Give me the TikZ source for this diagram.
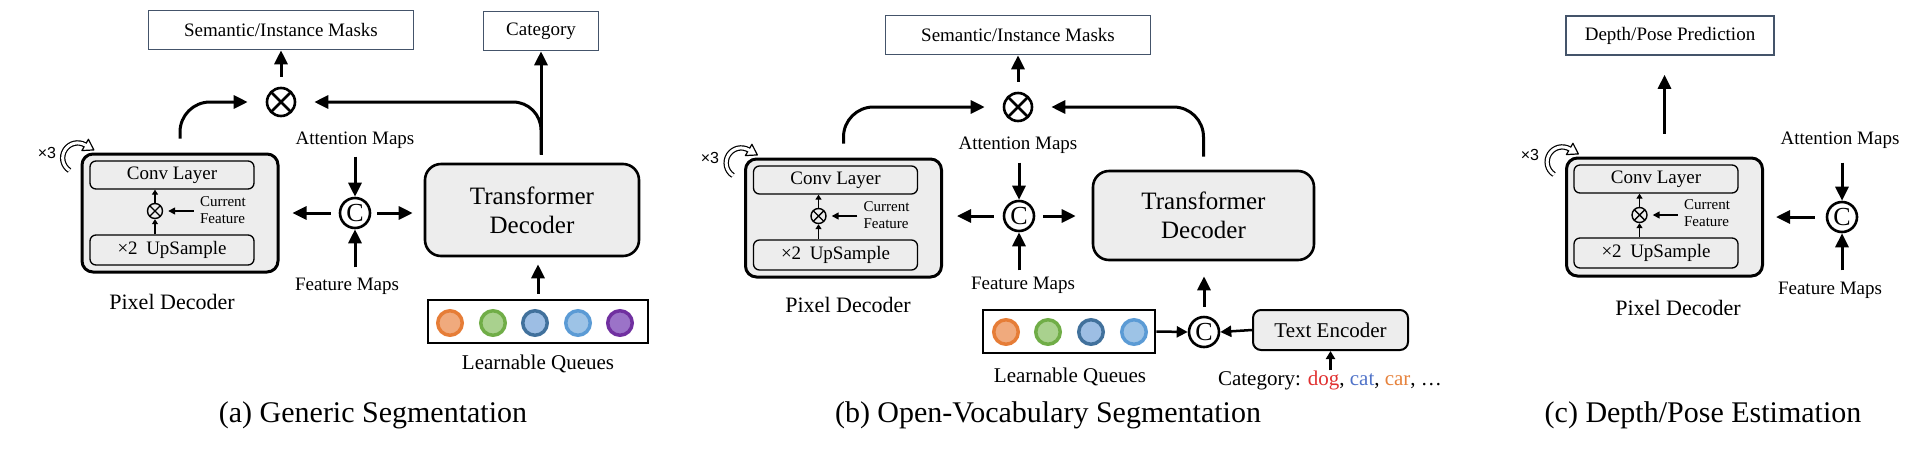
\documentclass[tikz,border=0pt]{standalone}
\usepackage{fontspec}
\setmainfont{Liberation Serif}
\setsansfont{Liberation Sans}
\usepackage{xcolor}
\usetikzlibrary{arrows.meta,calc,positioning}
\definecolor{edgeblue}{RGB}{68,84,106}
\definecolor{boxgray}{RGB}{237,237,237}
\definecolor{orgedge}{RGB}{230,125,55}
\definecolor{orgfill}{RGB}{240,170,125}
\definecolor{grnedge}{RGB}{112,173,71}
\definecolor{grnfill}{RGB}{169,209,142}
\definecolor{dbledge}{RGB}{65,113,156}
\definecolor{dblfill}{RGB}{157,190,228}
\definecolor{lbledge}{RGB}{91,155,213}
\definecolor{lblfill}{RGB}{157,195,230}
\definecolor{puredge}{RGB}{112,48,160}
\definecolor{purfill}{RGB}{155,115,200}
\definecolor{dogred}{RGB}{224,48,48}
\definecolor{catblue}{RGB}{80,115,200}
\definecolor{carorange}{RGB}{230,130,60}

\begin{document}
\begin{tikzpicture}[x=1pt, y=-1pt,
    every node/.style={inner sep=0pt},
    lab/.style={font=\fontsize{19}{22}\selectfont},
    curlab/.style={font=\fontsize{15}{17}\selectfont, align=left},
    pdlab/.style={font=\fontsize{22}{26}\selectfont},
    xlab/.style={font=\sffamily\fontsize{16}{18}\selectfont},
    qlab/.style={font=\fontsize{21}{24}\selectfont},
    caplab/.style={font=\fontsize{30}{34}\selectfont},
    outbox/.style={draw=edgeblue, line width=1.6pt, minimum height=39pt, font=\fontsize{19}{22}\selectfont},
    decbox/.style={draw, line width=3pt, rounded corners=11pt, fill=boxgray, minimum width=196pt, minimum height=118pt},
    layerbox/.style={draw, line width=1.3pt, rounded corners=6pt, fill=boxgray, minimum width=164pt, font=\fontsize{19}{22}\selectfont},
    tfbox/.style={draw, line width=2.6pt, rounded corners=16pt, fill=boxgray, align=center, font=\fontsize{25}{29}\selectfont},
    tebox/.style={draw, line width=2pt, rounded corners=8pt, fill=boxgray, minimum width=155pt, minimum height=40pt, font=\fontsize{21}{24}\selectfont},
    qbox/.style={draw, line width=2.6pt, minimum height=43pt},
    qdot/.style={circle, line width=3.5pt, minimum size=24.5pt},
    mulc/.style={circle, draw, line width=2.6pt, minimum size=28pt, path picture={\draw[line width=2.6pt] (path picture bounding box.north west) -- (path picture bounding box.south east) (path picture bounding box.north east) -- (path picture bounding box.south west);}},
    smallmul/.style={circle, draw, line width=1.4pt, minimum size=15pt, path picture={\draw[line width=1.4pt] (path picture bounding box.north west) -- (path picture bounding box.south east) (path picture bounding box.north east) -- (path picture bounding box.south west);}},
    catc/.style={circle, draw, line width=2.6pt, minimum size=30pt, font=\fontsize{26}{26}\selectfont},
    bigarr/.style={line width=3pt, -{Triangle[length=14pt,width=13pt]}},
    midarr/.style={line width=2.5pt, -{Triangle[length=11pt,width=11pt]}},
    smallarr/.style={line width=1.5pt, -{Triangle[length=7pt,width=7pt]}},
    txtarr/.style={line width=2.5pt, -{Triangle[length=8pt,width=9pt]}},
    tinyarr/.style={line width=1.4pt, -{Triangle[length=5pt,width=6pt]}},
    loopline/.style={double=white, double distance=3pt, line width=1.2pt}]
\useasboundingbox (0,0) rectangle (1928,456);

\node[outbox, minimum width=265pt] (maska) at (281,30) {Semantic/Instance Masks};
\node[outbox, minimum width=115pt] (cata) at (541,31) {Category};
\node[mulc] (mula) at (281,102) {};
\node[lab] (atta) at (355,140) {Attention Maps};
\node[catc] (conca) at (355,213) {C};
\node[lab] (feata) at (347,286) {Feature Maps};
\node[decbox] (pda) at (180,213) {};
\node[layerbox, minimum height=28pt] (conva) at (172,175) {Conv Layer};
\node[layerbox, minimum height=30pt] (upa) at (172,250) {×2\hspace{0.45em}UpSample};
\node[smallmul] (smula) at (155,211) {};
\node[curlab] (cura) at (223,210) {Current\\Feature};
\node[pdlab] (pdla) at (172,302) {Pixel Decoder};
\node[xlab] (xa) at (47,153) {×3};
\node[tfbox, minimum width=214pt, minimum height=92pt] (tfa) at (532,210) {Transformer\\Decoder};
\node[qbox, minimum width=220pt] (qa) at (538,321.5) {};
\node[qdot, draw=orgedge, fill=orgfill] (qa1) at (450,323) {};
\node[qdot, draw=grnedge, fill=grnfill] (qa2) at (493,323) {};
\node[qdot, draw=dbledge, fill=dblfill] (qa3) at (535,323) {};
\node[qdot, draw=lbledge, fill=lblfill] (qa4) at (578,323) {};
\node[qdot, draw=puredge, fill=purfill] (qa5) at (620,323) {};
\node[qlab] (qla) at (538,364) {Learnable Queues};
\node[caplab] (capa) at (373,415) {(a) Generic Segmentation};

\draw[bigarr, shorten <=10pt] (mula) -- (maska);
\draw[bigarr, rounded corners=30pt, shorten >=18pt] ($(pda.north)+(0,-14)$) |- (mula.west);
\coordinate (tfta) at ($(tfa.north)+(9,-8)$);
\draw[bigarr] (tfta) -- (tfta |- cata.south);
\draw[bigarr, rounded corners=28pt, shorten >=18pt] (tfta) |- (mula.east);
\draw[bigarr] ($(conca.north)+(0,-40)$) -- (conca.north);
\draw[bigarr] ($(conca.south)+(0,38)$) -- (conca.south);
\draw[bigarr, shorten <=8pt, shorten >=13pt] (conca.west) -- (conca.west -| pda.east);
\draw[bigarr, shorten <=6pt, shorten >=11pt] (conca.east) -- (conca.east -| tfa.west);
\draw[bigarr, shorten <=5pt, shorten >=7pt] (qa.north) -- (qa.north |- tfa.south);
\draw[tinyarr] (upa.north -| smula) -- (smula.south);
\draw[tinyarr] (smula.north) -- (smula.north |- conva.south);
\draw[smallarr, shorten <=6pt, shorten >=5pt] (cura.west |- smula) -- (smula.east);
\draw[loopline] ($(pda.north west)+(-11,18)$) arc (123:300:15) coordinate (lpa);
\filldraw[fill=white, line width=1.2pt, line join=round] ($(lpa)+(3.25,-5.63)$) -- ($(lpa)+(8.66,5)$) -- ($(lpa)+(-3.25,5.63)$) -- cycle;
\draw[white, line width=3pt] ($(lpa)+(-0.87,-0.5)$) -- ($(lpa)+(1.3,0.75)$);

\node[outbox, minimum width=265pt] (maskb) at (1018,35) {Semantic/Instance Masks};
\node[mulc] (mulb) at (1018,107) {};
\node[lab] (attb) at (1018,145) {Attention Maps};
\node[catc] (concb) at (1019,216) {C};
\node[lab] (featb) at (1023,285) {Feature Maps};
\node[decbox] (pdb) at (843.5,218) {};
\node[layerbox, minimum height=28pt] (convb) at (835.5,180) {Conv Layer};
\node[layerbox, minimum height=30pt] (upb) at (835.5,255) {×2\hspace{0.45em}UpSample};
\node[smallmul] (smulb) at (818.5,216) {};
\node[curlab] (curb) at (886.5,215) {Current\\Feature};
\node[pdlab] (pdlb) at (848,305) {Pixel Decoder};
\node[xlab] (xb) at (710,158) {×3};
\node[tfbox, minimum width=221pt, minimum height=89pt] (tfb) at (1203.5,215.5) {Transformer\\Decoder};
\node[qbox, minimum width=172pt] (qb) at (1069,331.5) {};
\node[qdot, draw=orgedge, fill=orgfill] (qb1) at (1006,332) {};
\node[qdot, draw=grnedge, fill=grnfill] (qb2) at (1048,332) {};
\node[qdot, draw=dbledge, fill=dblfill] (qb3) at (1091,332) {};
\node[qdot, draw=lbledge, fill=lblfill] (qb4) at (1134,332) {};
\node[qlab] (qlb) at (1070,377) {Learnable Queues};
\node[catc] (concqb) at (1204,332) {C};
\node[tebox] (teb) at (1330.5,330) {Text Encoder};
\node[qlab] (ctxb) at (1330,380) {Category: \textcolor{dogred}{dog}, \textcolor{catblue}{cat}, \textcolor{carorange}{car}, …};
\node[caplab] (capb) at (1048,415) {(b) Open-Vocabulary Segmentation};

\draw[bigarr, shorten <=10pt] (mulb) -- (maskb);
\draw[bigarr, rounded corners=30pt, shorten >=18pt] ($(pdb.north)+(0,-14)$) |- (mulb.west);
\draw[bigarr, rounded corners=30pt, shorten >=18pt] ($(tfb.north)+(0,-13)$) |- (mulb.east);
\draw[bigarr] ($(concb.north)+(0,-37)$) -- (concb.north);
\draw[bigarr] ($(concb.south)+(0,38)$) -- (concb.south);
\draw[bigarr, shorten <=9pt, shorten >=14pt] (concb.west) -- (concb.west -| pdb.east);
\draw[bigarr, shorten <=8pt, shorten >=16pt] (concb.east) -- (concb.east -| tfb.west);
\draw[midarr] (qb.east) -- (concqb.west);
\draw[midarr] (teb.west) -- (concqb.east);
\draw[bigarr, shorten <=9pt, shorten >=15pt] (concqb.north) -- (concqb.north |- tfb.south);
\draw[txtarr] (teb.south |- ctxb.north) -- (teb.south);
\draw[tinyarr] (upb.north -| smulb) -- (smulb.south);
\draw[tinyarr] (smulb.north) -- (smulb.north |- convb.south);
\draw[smallarr, shorten <=6pt, shorten >=5pt] (curb.west |- smulb) -- (smulb.east);
\draw[loopline] ($(pdb.north west)+(-11,18)$) arc (123:300:15) coordinate (lpb);
\filldraw[fill=white, line width=1.2pt, line join=round] ($(lpb)+(3.25,-5.63)$) -- ($(lpb)+(8.66,5)$) -- ($(lpb)+(-3.25,5.63)$) -- cycle;
\draw[white, line width=3pt] ($(lpb)+(-0.87,-0.5)$) -- ($(lpb)+(1.3,0.75)$);

\node[outbox, minimum width=208pt] (predc) at (1670,35.5) {Depth/Pose Prediction};
\node[decbox] (pdc) at (1664.5,217) {};
\node[layerbox, minimum height=28pt] (convc) at (1656,179) {Conv Layer};
\node[layerbox, minimum height=30pt] (upc) at (1656,253) {×2\hspace{0.45em}UpSample};
\node[smallmul] (smulc) at (1639.5,215) {};
\node[curlab] (curc) at (1707,213) {Current\\Feature};
\node[pdlab] (pdlc) at (1678,308) {Pixel Decoder};
\node[xlab] (xc) at (1530,155) {×3};
\node[lab] (attc) at (1840,140) {Attention Maps};
\node[catc] (concc) at (1842,217) {C};
\node[lab] (featc) at (1830,290) {Feature Maps};
\node[caplab] (capc) at (1703,415) {(c) Depth/Pose Estimation};

\draw[bigarr, shorten <=23pt, shorten >=19pt] (pdc.north) -- (pdc.north |- predc.south);
\draw[bigarr] ($(concc.north)+(0,-38)$) -- (concc.north);
\draw[bigarr] ($(concc.south)+(0,37)$) -- (concc.south);
\draw[bigarr, shorten <=11pt, shorten >=12pt] (concc.west) -- (concc.west -| pdc.east);
\draw[tinyarr] (upc.north -| smulc) -- (smulc.south);
\draw[tinyarr] (smulc.north) -- (smulc.north |- convc.south);
\draw[smallarr, shorten <=6pt, shorten >=5pt] (curc.west |- smulc) -- (smulc.east);
\draw[loopline] ($(pdc.north west)+(-11,18)$) arc (123:300:15) coordinate (lpc);
\filldraw[fill=white, line width=1.2pt, line join=round] ($(lpc)+(3.25,-5.63)$) -- ($(lpc)+(8.66,5)$) -- ($(lpc)+(-3.25,5.63)$) -- cycle;
\draw[white, line width=3pt] ($(lpc)+(-0.87,-0.5)$) -- ($(lpc)+(1.3,0.75)$);
\end{tikzpicture}
\end{document}
